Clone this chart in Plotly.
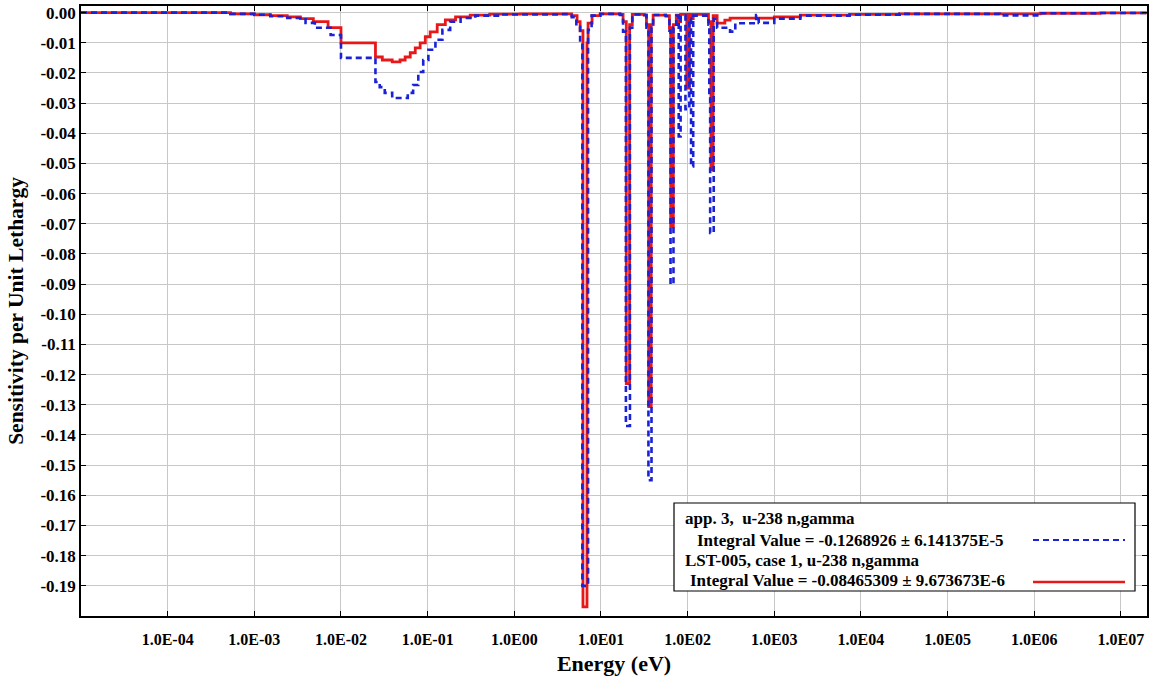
import plotly.graph_objects as go

# Energy group lower bounds (eV) and sensitivity per unit lethargy (step data)
energy_red = [1e-5, 5.3e-4, 1.0e-3, 1.53e-3, 2.4e-3, 3.4e-3, 4.8e-3, 7.1e-3, 1.0e-2,
              2.5e-2, 3.0e-2, 3.9e-2, 4.8e-2, 5.5e-2, 6.3e-2, 7.2e-2, 8.2e-2, 9.4e-2,
              0.107, 0.129, 0.16, 0.21, 0.31, 0.52, 1.17, 3.4, 4.6, 5.3, 5.75,
              6.2, 6.9, 7.1, 7.9, 9.8,
              16.6, 18.0, 19.6, 21.4, 23.0,
              31.6, 33.5, 35.5, 38.0, 40.0,
              56.0, 61.7, 63.8, 68.4, 74.0,
              78.9, 83.0,
              97.7, 104.7, 109.6, 116.0,
              174.0, 186.0, 197.0, 219.0, 269.0, 309.0, 676.0, 1000.0, 2000.0,
              7400.0, 28000.0, 1.17e6, 5.75e6, 2e7]
sens_red = [0.0, -0.0004, -0.0007, -0.001, -0.0014, -0.002, -0.003, -0.005, -0.010,
            -0.0147, -0.0157, -0.0163, -0.0157, -0.0147, -0.0133, -0.0117, -0.0100, -0.0080,
            -0.0064, -0.0040, -0.0024, -0.0014, -0.0008, -0.0005, -0.0004, -0.0004, -0.0010, -0.0030, -0.0060,
            -0.197, -0.010, -0.0035, -0.001, -0.0004,
            -0.0006, -0.003, -0.123, -0.004, -0.0006,
            -0.0008, -0.004, -0.1306, -0.004, -0.0008,
            -0.001, -0.005, -0.071, -0.004, -0.0008,
            -0.003, -0.0006,
            -0.025, -0.0006, -0.002, -0.0006,
            -0.003, -0.052, -0.001, -0.0035, -0.0025, -0.0018, -0.0018, -0.0014, -0.0008,
            -0.0006, -0.0004, -0.0002, -0.0001, -0.0001]

energy_blue = [1e-5, 5.3e-4, 1.0e-3, 1.53e-3, 2.4e-3, 3.9e-3, 5.0e-3, 7.6e-3, 1.0e-2,
               2.5e-2, 2.8e-2, 3.2e-2, 3.9e-2, 5.9e-2, 6.8e-2, 7.8e-2, 8.9e-2, 0.102,
               0.123, 0.148, 0.182, 0.24, 0.355, 0.69, 3.4, 4.6, 5.2, 5.75,
               6.1, 7.1, 7.8, 9.8,
               16.6, 18.0, 19.4, 21.6, 23.0,
               31.6, 33.5, 35.3, 38.3, 40.0,
               56.0, 61.7, 63.5, 68.7, 74.0,
               78.9, 83.0,
               94.4, 104.7, 109.6, 116.0,
               174.0, 178.0, 182.0, 200.0, 219.0, 309.0, 355.0, 617.0, 661.0,
               1000.0, 2000.0, 7400.0, 28000.0, 4.0e5, 1.17e6, 5.75e6, 2e7]
sens_blue = [0.0, -0.0004, -0.0007, -0.0012, -0.0018, -0.0034, -0.0050, -0.0074, -0.015,
             -0.023, -0.0247, -0.0266, -0.0283, -0.0266, -0.024, -0.0197, -0.0157, -0.0123,
             -0.009, -0.0057, -0.003, -0.0018, -0.001, -0.0006, -0.0005, -0.0015, -0.0047, -0.010,
             -0.190, -0.0057, -0.001, -0.0004,
             -0.0008, -0.0063, -0.137, -0.005, -0.0006,
             -0.0008, -0.005, -0.155, -0.005, -0.0008,
             -0.0012, -0.006, -0.090, -0.005, -0.001,
             -0.041, -0.001,
             -0.032, -0.002, -0.051, -0.001,
             -0.004, -0.028, -0.073, -0.002, -0.005, -0.0063, -0.0035, -0.0008, -0.0034,
             -0.002, -0.001, -0.0007, -0.0004, -0.0009, -0.0002, -0.0001, -0.0001]

x_tick_vals = [1e-4, 1e-3, 1e-2, 1e-1, 1e0, 1e1, 1e2, 1e3, 1e4, 1e5, 1e6, 1e7]
x_tick_text = ["1.0E-04", "1.0E-03", "1.0E-02", "1.0E-01", "1.0E00", "1.0E01",
               "1.0E02", "1.0E03", "1.0E04", "1.0E05", "1.0E06", "1.0E07"]
y_tick_vals = [-i / 100 for i in range(20)]
y_tick_text = ["0.00"] + ["-0.%02d" % i for i in range(1, 20)]

legend_lines = ["app. 3,\u00a0 u-238 n,gamma",
                "Integral Value = -0.1268926 ± 6.141375E-5",
                "LST-005, case 1, u-238 n,gamma",
                "Integral Value = -0.08465309 ± 9.673673E-6"]

RED = "#e81818"
BLUE = "#1a22d8"
FONT = "Liberation Serif"

fig = go.Figure()
fig.add_trace(go.Scatter(x=energy_red, y=sens_red, mode="lines", line_shape="hv",
                         line=dict(color=RED, width=2.8), showlegend=False))
fig.add_trace(go.Scatter(x=energy_blue, y=sens_blue, mode="lines", line_shape="hv",
                         line=dict(color=BLUE, width=2.6, dash="6px,4px"), showlegend=False))

axis_common = dict(showline=True, linecolor="black", linewidth=1.5, mirror="ticks",
                   ticks="inside", ticklen=5, tickcolor="black", automargin=False,
                   gridcolor="#c8c8c8", gridwidth=1, zeroline=False)

fig.update_xaxes(type="log", range=[-5, 7.301], tickvals=x_tick_vals, ticktext=x_tick_text,
                 tickfont=dict(family=FONT, size=16, color="black", weight="bold"),
                 ticklabelstandoff=8,
                 title=dict(text="<b>Energy (eV)</b>", font=dict(family=FONT, size=22, color="black"),
                            standoff=9),
                 **axis_common)
fig.update_yaxes(range=[-0.2, 0.0022], tickvals=y_tick_vals, ticktext=y_tick_text,
                 tickfont=dict(family=FONT, size=17, color="black", weight="bold"),
                 title=dict(text="<b>Sensitivity per Unit Lethargy</b>",
                            font=dict(family=FONT, size=21.5, color="black"), standoff=11),
                 **axis_common)

# Legend box (symbols on the right, as in the reference)
L, R, T, B = 81, 1147, 6, 616
def px(xp):
    return (xp - L) / (R - L)
def py(yp):
    return (B - yp) / (B - T)

fig.add_shape(type="rect", xref="paper", yref="paper", x0=px(674), x1=px(1135),
              y0=py(591), y1=py(503), line=dict(color="black", width=1.2), fillcolor="white",
              layer="above")
text_x = [683, 695, 683, 688]
text_y = [518, 540, 560, 580]
for t, xx, yy in zip(legend_lines, text_x, text_y):
    fig.add_annotation(text="<b>%s</b>" % t, xref="paper", yref="paper", x=px(xx), y=py(yy),
                       xanchor="left", yanchor="middle", showarrow=False,
                       font=dict(family=FONT, size=17, color="black"))
fig.add_shape(type="line", xref="paper", yref="paper", x0=px(1033), x1=px(1125),
              y0=py(540), y1=py(540), line=dict(color=BLUE, width=2, dash="6px,4px"), layer="above")
fig.add_shape(type="line", xref="paper", yref="paper", x0=px(1033), x1=px(1125),
              y0=py(582), y1=py(582), line=dict(color=RED, width=2.5), layer="above")

fig.update_layout(width=1153, height=680, margin=dict(l=L, r=1153 - R, t=T, b=680 - B),
                  paper_bgcolor="white", plot_bgcolor="white")

fig.write_html("out.html", config={"displayModeBar": False},
               post_script="document.body.style.margin='0px';document.body.style.overflow='hidden';")
